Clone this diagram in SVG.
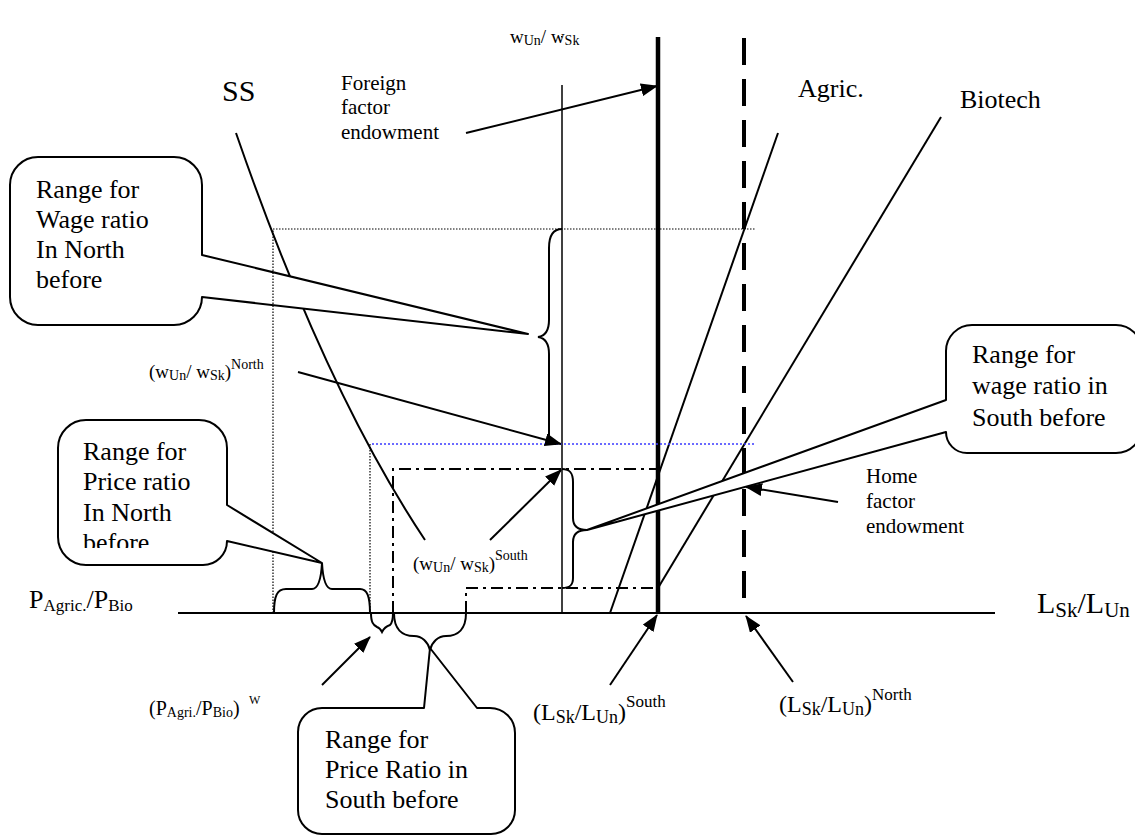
<svg xmlns="http://www.w3.org/2000/svg" width="1135" height="836" viewBox="0 0 1135 836" font-family="'Liberation Serif', 'DejaVu Serif', serif">
<defs>
<style>
text{font-family:"Liberation Serif","DejaVu Serif",serif;fill:#000}
.ln{stroke:#000;stroke-width:2;fill:none}
.thin{stroke:#000;stroke-width:1.5;fill:none}
.dot{stroke:#000;stroke-width:1.2;stroke-dasharray:1.5 1.5;fill:none}
.bdot{stroke:#3a3aff;stroke-width:1.6;stroke-dasharray:2 2;fill:none}
.dd{stroke:#000;stroke-width:2;stroke-dasharray:12 5 3 5;fill:none}
.call{fill:#fff;stroke:#000;stroke-width:2;stroke-linejoin:round}
.br{fill:none;stroke:#000;stroke-width:2}
.arr{stroke:#000;stroke-width:2;fill:none;marker-end:url(#ah)}
.t26{font-size:26px}
.t21{font-size:21px}
</style>
<marker id="ah" markerUnits="userSpaceOnUse" markerWidth="17" markerHeight="13" refX="16" refY="6.5" orient="auto"><path d="M0,0 L17,6.5 L0,13 Z" fill="#000"/></marker>
<clipPath id="clip2"><rect x="58" y="420" width="170" height="128"/></clipPath>
</defs>
<rect width="1135" height="836" fill="#fff"/>

<g id="axes">
<line class="ln" x1="178" y1="613" x2="995" y2="613"/>
<line class="thin" x1="562" y1="85" x2="562" y2="613"/>
<rect x="561" y="36" width="1.5" height="1.5" fill="#000"/>
</g>

<g id="ss-curve">
<path class="ln" d="M236,133 Q325,390 425,540"/>
</g>

<g id="agric-line"><line class="ln" x1="778" y1="133" x2="610" y2="613"/></g>
<g id="biotech-line"><line class="ln" x1="941" y1="117" x2="658" y2="588"/></g>

<g id="endowments">
<line stroke="#000" stroke-width="4.5" x1="658" y1="37" x2="658" y2="613"/>
<line stroke="#000" stroke-width="4" stroke-dasharray="27 14" x1="744" y1="38" x2="744" y2="613"/>
</g>

<g id="callout-wage-north">
<path class="call" d="M38,157 H174 A28,28 0 0 1 202,185 V255 L528,334 L202,297 A28,28 0 0 1 174,325 H38 A28,28 0 0 1 10,297 V185 A28,28 0 0 1 38,157 Z"/>
<text class="t26" x="36"><tspan x="36" y="198">Range for</tspan><tspan x="36" y="228">Wage ratio</tspan><tspan x="36" y="258">In North</tspan><tspan x="36" y="288">before</tspan></text>
</g>

<g id="guides">
<polyline class="dot" points="273,613 273,229 755,229"/>
<line class="bdot" x1="372" y1="444" x2="755" y2="444"/>
<line class="dot" x1="370" y1="444" x2="370" y2="613"/>
<polyline class="dd" points="393,613 393,469 658,469"/>
<polyline class="dd" points="466,613 466,588 658,588"/>
</g>

<g id="braces">
<path class="br" d="M562,229 C553,229 549,235 549,248 V320 C549,331 545,336 538,337 C545,338 549,343 549,354 V438 C549,442 552,444 556,444"/>
<path class="br" d="M562,469 C570,469 573,473 573,482 V518 C573,526 578,530 587,530 C578,530 573,534 573,542 V578 C573,585 570,588 562,588"/>
<path class="br" d="M274,613 C274,596 277,589 286,589 H312 C318,589 321,581 322,563 C323,581 326,589 332,589 H360 C367,589 370,596 370,613"/>
<path class="br" d="M371,613 C371,622 373,625 377,627 C380,628 381,630 382,632 C384,628 387,626 390,625 C392,623 393,619 393,613"/>
<path class="br" d="M394,613 C394,629 402,636 414,636 C422,636 428,642 430,650 C432,642 438,636 446,636 C458,636 466,629 466,613"/>
</g>

<g id="callout-price-north">
<path class="call" d="M86,420 H199 A28,28 0 0 1 227,448 V505 L322,563 L227,541 A24,24 0 0 1 203,565 H86 A28,28 0 0 1 58,537 V448 A28,28 0 0 1 86,420 Z"/>
<text class="t26" clip-path="url(#clip2)"><tspan x="83" y="460">Range for</tspan><tspan x="83" y="490">Price ratio</tspan><tspan x="83" y="521">In North</tspan><tspan x="83" y="551">before</tspan></text>
</g>

<g id="callout-wage-south">
<path class="call" d="M972,325 H1116 A26,26 0 0 1 1142,351 V427 A26,26 0 0 1 1116,453 H967 A21,21 0 0 1 946,432 L587,530 L946,400 V351 A26,26 0 0 1 972,325 Z"/>
<text class="t26"><tspan x="972" y="363">Range for</tspan><tspan x="972" y="394">wage ratio in</tspan><tspan x="972" y="426">South before</tspan></text>
</g>

<g id="callout-price-south">
<path class="call" d="M322,708 H424 L430,648 L477,708 H490 A25,25 0 0 1 515,733 V810 A24,24 0 0 1 491,834 H322 A24,24 0 0 1 298,810 V732 A24,24 0 0 1 322,708 Z"/>
<text class="t26"><tspan x="325" y="748">Range for</tspan><tspan x="325" y="778">Price Ratio in</tspan><tspan x="325" y="808">South before</tspan></text>
</g>

<g id="connectors">
<line class="arr" x1="466" y1="133" x2="657" y2="86"/>
<line class="arr" x1="298" y1="372" x2="561" y2="444"/>
<line class="arr" x1="490" y1="540" x2="561" y2="470"/>
<line class="arr" x1="838" y1="502" x2="746" y2="487"/>
<line class="arr" x1="322" y1="685" x2="370" y2="637"/>
<line class="arr" x1="610" y1="685" x2="657" y2="615"/>
<line class="arr" x1="793" y1="682" x2="746" y2="616"/>
</g>

<g id="labels">
<text x="222" y="101" font-size="30">SS</text>
<text x="798" y="97" class="t26">Agric.</text>
<text x="960" y="108" class="t26">Biotech</text>
<text class="t21"><tspan x="341" y="90">Foreign</tspan><tspan x="341" y="114">factor</tspan><tspan x="341" y="139">endowment</tspan></text>
<text class="t21"><tspan x="866" y="483">Home</tspan><tspan x="866" y="508">factor</tspan><tspan x="866" y="533">endowment</tspan></text>
<text x="510" y="43" font-size="19">w<tspan font-size="14" dy="2">Un</tspan><tspan dy="-2">/ w</tspan><tspan font-size="14" dy="2">Sk</tspan></text>
<text x="149" y="378" font-size="19">(w<tspan font-size="14" dy="2">Un</tspan><tspan dy="-2">/ w</tspan><tspan font-size="14" dy="2">Sk</tspan><tspan dy="-2">)</tspan><tspan font-size="14" dy="-9">North</tspan></text>
<text x="413" y="570" font-size="19">(w<tspan font-size="14" dy="2">Un</tspan><tspan dy="-2">/ w</tspan><tspan font-size="14" dy="2">Sk</tspan><tspan dy="-2">)</tspan><tspan font-size="14" dy="-10">South</tspan></text>
<text x="29" y="608" font-size="26">P<tspan font-size="17" dy="3">Agric.</tspan><tspan dy="-3">/P</tspan><tspan font-size="17" dy="3">Bio</tspan></text>
<text x="1037" y="613" font-size="30">L<tspan font-size="21" dy="4">Sk</tspan><tspan dy="-4">/L</tspan><tspan font-size="21" dy="4">Un</tspan></text>
<text x="149" y="715" font-size="20">(P<tspan font-size="14" dy="2">Agri.</tspan><tspan dy="-2">/P</tspan><tspan font-size="14" dy="2">Bio</tspan><tspan dy="-2">)</tspan></text>
<text x="249" y="704" font-size="12">W</text>
<text x="533" y="720" font-size="24">(L<tspan font-size="18" dy="3">Sk</tspan><tspan dy="-3">/L</tspan><tspan font-size="18" dy="3">Un</tspan><tspan dy="-3">)</tspan><tspan font-size="17" dy="-13">South</tspan></text>
<text x="779" y="712" font-size="24">(L<tspan font-size="18" dy="3">Sk</tspan><tspan dy="-3">/L</tspan><tspan font-size="18" dy="3">Un</tspan><tspan dy="-3">)</tspan><tspan font-size="17" dy="-12">North</tspan></text>
</g>
</svg>
